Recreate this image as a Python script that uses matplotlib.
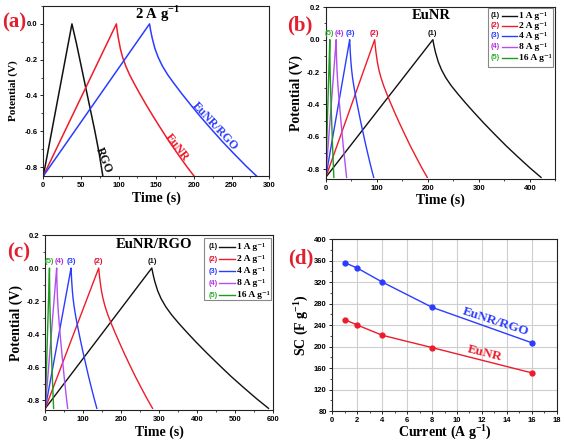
import matplotlib
matplotlib.use('Agg')
import matplotlib.pyplot as plt
from matplotlib.ticker import MultipleLocator
from matplotlib.patches import Rectangle
from matplotlib.lines import Line2D

plt.rcParams['font.family'] = ['Liberation Sans', 'DejaVu Sans']
plt.rcParams['font.weight'] = 'bold'
plt.rcParams['axes.unicode_minus'] = False
plt.rcParams['mathtext.fontset'] = 'custom'
plt.rcParams['mathtext.rm'] = 'Liberation Serif'
plt.rcParams['mathtext.bf'] = 'Liberation Serif:bold'

SERIF = 'Liberation Serif'
SERIF_LIST = ['Liberation Serif', 'DejaVu Serif']
LETTER_RED = '#e0202e'
C_BLACK = '#111111'
C_RED = '#ee1c2a'
C_BLUE = '#2a3cff'
C_PURPLE = '#b44ef0'
C_GREEN = '#1f9a1f'

# ---------------- data ----------------
# galvanostatic charge/discharge: potential at the sampled points (V)
GCD_V = [-0.85, 0.0, -0.036, -0.080, -0.137, -0.186, -0.235, -0.284, -0.334,
         -0.389, -0.449, -0.514, -0.583, -0.657, -0.726, -0.793, -0.85]
RGO_V = [-0.85, 0.0, -0.11, -0.23, -0.35, -0.47, -0.59, -0.72, -0.85]

# (a) 2 A g-1, times (s)
a_rgo_t = [0, 38, 44, 50, 56, 62, 68, 74, 79]
a_eunr_t = [0, 97, 98.0, 99.6, 102.2, 105.2, 109.4, 114.5, 120.7, 127.9, 136.1,
            145.4, 155.7, 167.0, 178.4, 189.7, 200]
a_eunr_rgo_t = [0, 141, 142.4, 144.6, 148.1, 152.4, 158.0, 165.1, 173.7, 183.6, 195.0,
                207.7, 221.9, 237.6, 253.2, 268.8, 283]

# (b) EuNR at 1, 2, 4, 8, 16 A g-1
b_t1 = [0, 210, 212.1, 215.3, 220.6, 227.0, 235.4, 246.0, 258.8, 273.6, 290.6,
        309.6, 330.8, 354.2, 377.5, 400.8, 422]
b_t2 = [0, 96, 97.0, 98.6, 101.2, 104.2, 108.4, 113.5, 119.7, 126.9, 135.1,
        144.4, 154.7, 166.0, 177.4, 188.7, 199]
b_t4 = [0, 47, 47.5, 48.2, 49.4, 50.8, 52.6, 55.0, 57.8, 61.1, 64.9,
        69.1, 73.8, 79.0, 84.1, 89.3, 94]
b_t8 = [0, 20.5, 20.7, 21.0, 21.5, 22.1, 23.0, 24.0, 25.2, 26.7, 28.3,
        30.1, 32.2, 34.4, 36.7, 39.0, 41]
b_t16 = [0, 8, 8.1, 8.2, 8.4, 8.6, 9.0, 9.4, 9.8, 10.4, 11.0,
         11.8, 12.6, 13.4, 14.3, 15.2, 16]

# (c) EuNR/RGO at 1, 2, 4, 8, 16 A g-1
c_t1 = [0, 281, 284.1, 288.7, 296.4, 305.6, 318.0, 333.4, 351.8, 373.4, 398.0,
        425.8, 456.6, 490.4, 524.3, 558.2, 589]
c_t2 = [0, 141, 142.4, 144.6, 148.1, 152.4, 158.0, 165.1, 173.7, 183.6, 195.0,
        207.7, 221.9, 237.6, 253.2, 268.8, 283]
c_t4 = [0, 68, 68.7, 69.7, 71.4, 73.4, 76.2, 79.6, 83.6, 88.4, 93.8,
        100.0, 106.8, 114.2, 121.7, 129.2, 136]
c_t8 = [0, 30, 30.3, 30.7, 31.5, 32.3, 33.5, 34.9, 36.7, 38.7, 41.0,
        43.6, 46.5, 49.7, 52.9, 56.1, 59]
c_t16 = [0, 11, 11.1, 11.3, 11.6, 11.9, 12.3, 12.9, 13.5, 14.3, 15.2,
         16.2, 17.3, 18.5, 19.7, 20.9, 22]

# (d) specific capacitance
current = [1, 2, 4, 8, 16]
sc_eunr_rgo = [356, 346, 320, 273, 207]
sc_eunr = [250, 240, 221, 198, 151]

rate_labels = ['1 A g\u207b\u00b9', '2 A g\u207b\u00b9', '4 A g\u207b\u00b9',
               '8 A g\u207b\u00b9', '16 A g\u207b\u00b9']
peak_tags = ['(1)', '(2)', '(3)', '(4)', '(5)']
rate_colors = [C_BLACK, C_RED, C_BLUE, C_PURPLE, C_GREEN]
tag_colors = [C_BLACK, '#e01030', C_BLUE, '#b030e0', '#30b030']

# ---------------- figure ----------------
fig = plt.figure(figsize=(5.64, 4.42), dpi=100)
ax_a = fig.add_axes([0.0768, 0.6018, 0.4007, 0.3846])
ax_b = fig.add_axes([0.5775, 0.5950, 0.4071, 0.3885])
ax_c = fig.add_axes([0.0803, 0.0724, 0.4032, 0.3959])
ax_d = fig.add_axes([0.5892, 0.0701, 0.3979, 0.3891])


def style(ax, xlim, ylim, xmaj, xmin, ymaj, ymin):
    ax.set_xlim(*xlim)
    ax.set_ylim(*ylim)
    ax.xaxis.set_major_locator(MultipleLocator(xmaj))
    ax.yaxis.set_major_locator(MultipleLocator(ymaj))
    if xmin:
        ax.xaxis.set_minor_locator(MultipleLocator(xmin))
    if ymin:
        ax.yaxis.set_minor_locator(MultipleLocator(ymin))
    ax.tick_params(which='major', direction='out', length=2.5, width=0.6,
                   labelsize=5.5, pad=1.5)
    ax.tick_params(which='minor', direction='out', length=1.4, width=0.5)
    for s in ax.spines.values():
        s.set_linewidth(0.8)
        s.set_color('#222222')


def labels(ax, xl, yl, xy, yx, size=10):
    ax.set_xlabel(xl, fontfamily=SERIF, fontweight='bold', fontsize=size)
    ax.set_ylabel(yl, fontfamily=SERIF, fontweight='bold', fontsize=size)
    ax.xaxis.set_label_coords(0.5, xy)
    ax.yaxis.set_label_coords(yx, 0.5)


# (a)
ax_a.plot(a_rgo_t, RGO_V, color=C_BLACK, lw=1.1)
ax_a.plot(a_eunr_t, GCD_V, color=C_RED, lw=1.1)
ax_a.plot(a_eunr_rgo_t, GCD_V, color=C_BLUE, lw=1.1)
style(ax_a, (0, 300), (-0.85, 0.1), 50, 25, 0.2, 0.1)
labels(ax_a, 'Time (s)', 'Potential (V)', -0.094, -0.11)
ax_a.yaxis.label.set_fontsize(8)
ax_a.text(152, 0.055, '2 A g$^{\\mathbf{-1}}$', fontfamily=SERIF, fontweight='bold',
          fontsize=10.5, ha='center', va='center')
ax_a.text(80, -0.76, 'RGO', fontfamily=SERIF, fontweight='bold', fontsize=8.5,
          rotation=-68, ha='center', va='center', color=C_BLACK)
ax_a.text(177, -0.69, 'EuNR', fontfamily=SERIF, fontweight='bold', fontsize=8.5,
          rotation=-52, ha='center', va='center', color=C_RED)
ax_a.text(228, -0.57, 'EuNR/RGO', fontfamily=SERIF, fontweight='bold', fontsize=8.5,
          rotation=-47, ha='center', va='center', color=C_BLUE)


def legend_box(ax, x0, x1, y0, y1, rows, tag_x, line_x0, line_x1, lab_x):
    ax.add_patch(Rectangle((x0, y0), x1 - x0, y1 - y0, transform=ax.transAxes,
                           facecolor='white', edgecolor='#888888', lw=0.8, zorder=5))
    for i, y in enumerate(rows):
        ax.text(tag_x, y, peak_tags[i], transform=ax.transAxes, color=tag_colors[i],
                fontsize=5.3, ha='center', va='center', zorder=6)
        ax.add_line(Line2D([line_x0, line_x1], [y, y], transform=ax.transAxes,
                           color=rate_colors[i], lw=1.0, zorder=6))
        ax.text(lab_x, y, rate_labels[i], transform=ax.transAxes, family=SERIF_LIST,
                fontweight='bold', fontsize=6.8, ha='left', va='center', zorder=6)


# (b)
for t, col in zip([b_t1, b_t2, b_t4, b_t8, b_t16], rate_colors):
    ax_b.plot(t, GCD_V, color=col, lw=1.0)
style(ax_b, (0, 450), (-0.86, 0.2), 100, 50, 0.2, 0.1)
labels(ax_b, 'Time (s)', 'Potential (V)', -0.084, -0.099)
ax_b.text(0.46, 0.955, 'EuNR', transform=ax_b.transAxes, fontfamily=SERIF,
          fontweight='bold', fontsize=10.5, ha='center', va='center')
for x, tag, col in zip([210, 95, 48, 26, 7], peak_tags, tag_colors):
    ax_b.text(x, 0.04, tag, color=col, fontsize=5.5, ha='center', va='center')
legend_box(ax_b, 0.707, 0.99, 0.651, 0.995, [0.951, 0.893, 0.833, 0.771, 0.707],
           0.739, 0.766, 0.834, 0.842)

# (c)
for t, col in zip([c_t1, c_t2, c_t4, c_t8, c_t16], rate_colors):
    ax_c.plot(t, GCD_V, color=col, lw=1.0)
style(ax_c, (0, 600), (-0.86, 0.2), 100, 50, 0.2, 0.1)
labels(ax_c, 'Time (s)', 'Potential (V)', -0.086, -0.10)
ax_c.text(0.48, 0.943, 'EuNR/RGO', transform=ax_c.transAxes, fontfamily=SERIF,
          fontweight='bold', fontsize=10.5, ha='center', va='center')
for x, tag, col in zip([283, 141, 69, 36, 10], peak_tags, tag_colors):
    ax_c.text(x, 0.04, tag, color=col, fontsize=5.5, ha='center', va='center')
legend_box(ax_c, 0.698, 0.991, 0.629, 0.981, [0.933, 0.861, 0.794, 0.724, 0.657],
           0.739, 0.764, 0.834, 0.844)

# (d)
ax_d.grid(True, which='major', color='#cfcfcf', lw=0.8)
ax_d.set_axisbelow(True)
ax_d.plot(current, sc_eunr_rgo, color=C_BLUE, lw=1.0, marker='o', ms=3.5)
ax_d.plot(current, sc_eunr, color=C_RED, lw=1.0, marker='o', ms=3.5)
style(ax_d, (0, 18), (80, 400), 2, 1, 40, 20)
labels(ax_d, 'Current (A g$^{\\mathbf{-1}}$)', 'SC (F g$^{\\mathbf{-1}}$)', -0.066, -0.10)
ax_d.text(13.1, 246, 'EuNR/RGO', fontfamily=SERIF, fontweight='bold', fontsize=9.5,
          rotation=-18, ha='center', va='center', color=C_BLUE)
ax_d.text(12.2, 187, 'EuNR', fontfamily=SERIF, fontweight='bold', fontsize=9.5,
          rotation=-14, ha='center', va='center', color=C_RED)

# panel letters
for (x, y), s in zip([(0.0248, 0.948), (0.532, 0.943), (0.0337, 0.428), (0.534, 0.416)],
                     ['(a)', '(b)', '(c)', '(d)']):
    fig.text(x, y, s, fontfamily=SERIF, fontweight='bold', fontsize=15,
             color=LETTER_RED, ha='center', va='center')

fig.savefig('out.png', dpi=100)
